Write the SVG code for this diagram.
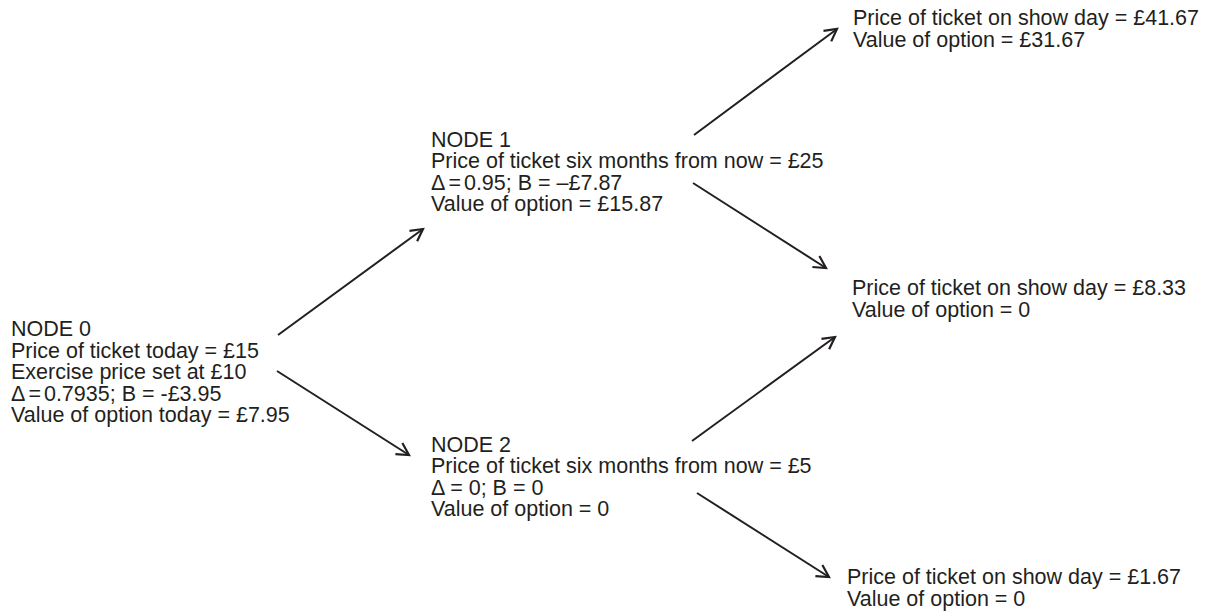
<svg xmlns="http://www.w3.org/2000/svg" width="1206" height="613" viewBox="0 0 1206 613">
  <style>
    .t { font-family: "Liberation Sans", Arial, sans-serif; font-size: 21.5px; fill: #231f20; }
    .edge { stroke: #231f20; stroke-width: 2; fill: none; marker-end: url(#arrow); }
  </style>
  <defs>
    <marker id="arrow" markerUnits="userSpaceOnUse" viewBox="-16 -10 20 20" markerWidth="20" markerHeight="20" refX="0" refY="0" orient="auto" overflow="visible">
      <path d="M-12,-6.5 L0,0 L-12,6.5" fill="none" stroke="#231f20" stroke-width="2.2" stroke-linejoin="miter"/>
    </marker>
  </defs>
  <rect width="1206" height="613" fill="#ffffff"/>

  <!-- connectors -->
  <g id="connectors">
    <line class="edge" x1="278" y1="335" x2="423" y2="229"/>
    <line class="edge" x1="277" y1="371" x2="409" y2="455"/>
    <line class="edge" x1="694" y1="135" x2="837" y2="29"/>
    <line class="edge" x1="693" y1="183" x2="826" y2="268"/>
    <line class="edge" x1="692" y1="441" x2="835" y2="337"/>
    <line class="edge" x1="697" y1="493" x2="829" y2="577"/>
  </g>

  <!-- node 0 -->
  <g id="node0">
    <text class="t" x="11" y="336">NODE 0</text>
    <text class="t" x="11" y="357.5">Price of ticket today = £15</text>
    <text class="t" x="11" y="379">Exercise price set at £10</text>
    <text class="t" x="11" y="400.5">Δ<tspan dx="3">=</tspan><tspan dx="3">0.7935; B = -£3.95</tspan></text>
    <text class="t" x="11" y="422">Value of option today = £7.95</text>
  </g>

  <!-- node 1 -->
  <g id="node1">
    <text class="t" x="431" y="146.5">NODE 1</text>
    <text class="t" x="431" y="168">Price of ticket six months from now = £25</text>
    <text class="t" x="431" y="189.5">Δ<tspan dx="3">=</tspan><tspan dx="3">0.95; B = –£7.87</tspan></text>
    <text class="t" x="431" y="211">Value of option = £15.87</text>
  </g>

  <!-- node 2 -->
  <g id="node2">
    <text class="t" x="431" y="451.5">NODE 2</text>
    <text class="t" x="431" y="473">Price of ticket six months from now = £5</text>
    <text class="t" x="431" y="494.5">Δ = 0; B = 0</text>
    <text class="t" x="431" y="516">Value of option = 0</text>
  </g>

  <!-- show-day outcomes -->
  <g id="node_up_up">
    <text class="t" x="853" y="25">Price of ticket on show day = £41.67</text>
    <text class="t" x="853" y="46.5">Value of option = £31.67</text>
  </g>
  <g id="node_up_down">
    <text class="t" x="852" y="295">Price of ticket on show day = £8.33</text>
    <text class="t" x="852" y="316.5">Value of option = 0</text>
  </g>
  <g id="node_down_down">
    <text class="t" x="847" y="584">Price of ticket on show day = £1.67</text>
    <text class="t" x="847" y="605.5">Value of option = 0</text>
  </g>
</svg>
